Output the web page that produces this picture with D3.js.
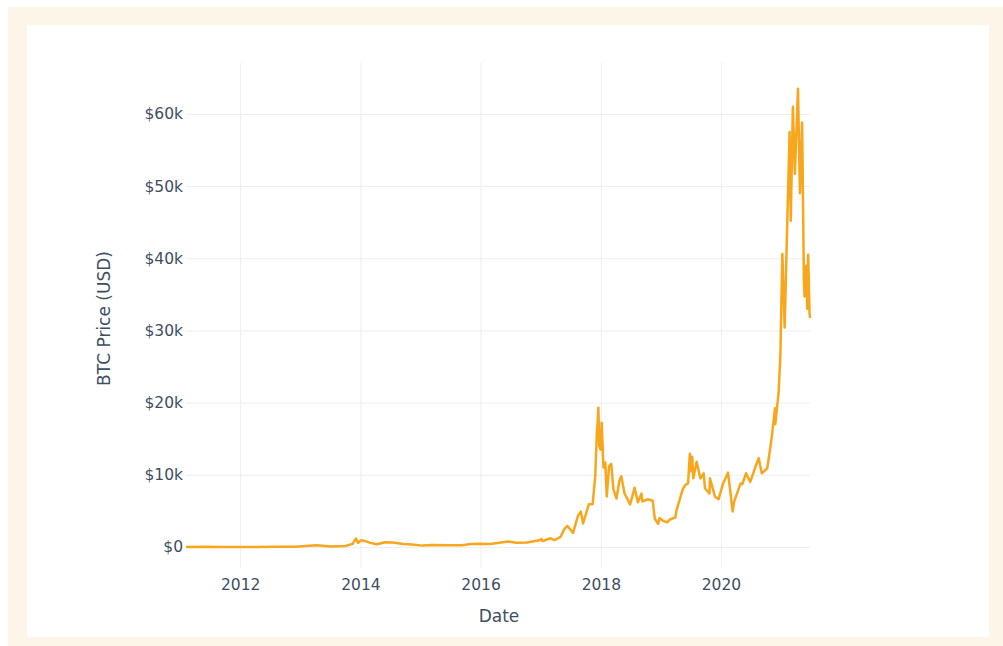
<!DOCTYPE html>
<html lang="en">
<head>
    <meta charset="UTF-8">
    <title>BTC Price (USD)</title>
    <script src="https://d3js.org/d3.v7.min.js"></script>
    <style>
        body { margin: 0; background: #fff; }
        .tick text { font-family: "DejaVu Sans", Verdana, sans-serif; font-size: 15.5px; fill: #404e62; }
        .grid line { stroke: #eceef2; stroke-width: 1px; }
        .axis-title { font-family: "DejaVu Sans", Verdana, sans-serif; font-size: 17px; fill: #404e62; }
    </style>
</head>
<body>
    <svg width="1003" height="646"></svg>
    <script>
        // BTC price (USD)
        var dates = [
            "2011-02-06", "2011-06-08", "2011-09-01", "2011-12-01", "2012-04-01", "2012-08-15", "2012-12-01",
            "2013-04-09", "2013-07-05", "2013-10-01", "2013-11-15", "2013-12-04", "2013-12-18", "2014-01-05",
            "2014-02-01", "2014-03-01", "2014-04-10", "2014-06-01", "2014-07-15", "2014-09-20", "2014-11-10",
            "2015-01-14", "2015-03-10", "2015-06-10", "2015-09-10", "2015-11-04", "2015-12-20", "2016-03-01",
            "2016-06-17", "2016-08-05", "2016-10-10", "2016-12-31", "2017-01-04", "2017-01-12", "2017-03-01",
            "2017-03-25", "2017-05-01", "2017-05-25", "2017-06-12", "2017-07-16", "2017-08-15", "2017-09-01",
            "2017-09-15", "2017-10-20", "2017-11-12", "2017-11-28", "2017-12-08", "2017-12-12", "2017-12-17",
            "2017-12-22", "2017-12-30", "2018-01-06", "2018-01-17", "2018-01-28", "2018-02-06", "2018-02-20",
            "2018-03-05", "2018-03-18", "2018-04-06", "2018-04-24", "2018-05-05", "2018-05-25", "2018-06-28",
            "2018-07-25", "2018-08-14", "2018-09-05", "2018-09-10", "2018-10-15", "2018-11-12", "2018-11-25",
            "2018-12-15", "2018-12-24", "2019-01-15", "2019-02-07", "2019-02-25", "2019-03-30", "2019-04-05",
            "2019-05-14", "2019-05-30", "2019-06-15", "2019-06-26", "2019-07-02", "2019-07-10", "2019-07-17",
            "2019-08-06", "2019-08-29", "2019-09-18", "2019-09-26", "2019-10-23", "2019-10-26", "2019-11-25",
            "2019-12-17", "2020-01-14", "2020-02-13", "2020-03-12", "2020-03-20", "2020-04-29", "2020-05-10",
            "2020-06-01", "2020-06-27", "2020-07-27", "2020-08-17", "2020-09-05", "2020-10-08", "2020-10-21",
            "2020-11-06", "2020-11-24", "2020-11-26", "2020-12-16", "2020-12-27", "2021-01-08", "2021-01-22",
            "2021-02-08", "2021-02-21", "2021-02-28", "2021-03-13", "2021-03-25", "2021-04-13", "2021-04-25",
            "2021-05-08", "2021-05-19", "2021-05-23", "2021-06-03", "2021-06-08", "2021-06-14", "2021-06-22",
            "2021-06-25"
        ];
        var prices = [
            1, 30, 5, 3, 5, 11, 13,
            230, 70, 125, 420, 1150, 550, 930,
            800, 560, 380, 650, 620, 400, 350,
            180, 280, 230, 235, 400, 430, 415,
            750, 570, 610, 960, 1130, 800, 1200,
            930, 1400, 2500, 2900, 1950, 4300, 4900,
            3250, 5900, 5900, 9800, 16000, 17000, 19300,
            14000, 13500, 17200, 11000, 11700, 7000, 11200,
            11500, 8000, 6700, 9200, 9800, 7400, 5900,
            8200, 6200, 7400, 6300, 6600, 6400, 3900,
            3200, 4000, 3600, 3400, 3800, 4100, 5000,
            8000, 8600, 8800, 12900, 10500, 12500, 9500,
            11800, 9500, 10200, 8100, 7400, 9500, 7000,
            6600, 8800, 10300, 4900, 6200, 8800, 8700,
            10200, 9000, 11000, 12300, 10200, 10900, 12800,
            15500, 19200, 17000, 21300, 26500, 40600, 30400,
            46000, 57500, 45200, 61000, 51700, 63500, 49000,
            58800, 37000, 34700, 39000, 33000, 40500, 32500,
            31700
        ];
        var yearTicks = [2012, 2014, 2016, 2018, 2020];
        var priceTicks = [0, 10000, 20000, 30000, 40000, 50000, 60000];

        var parseDate = d3.timeParse("%Y-%m-%d");
        var data = dates.map(function(d, i) { return { date: parseDate(d), price: prices[i] }; });

        var svg = d3.select("svg");

        // cream frame and white card
        svg.append("rect").attr("x", 8).attr("y", 7).attr("width", 995).attr("height", 639).attr("fill", "#fdf5e8");
        svg.append("rect").attr("x", 27).attr("y", 25).attr("width", 962).attr("height", 612).attr("fill", "#fff");

        var margin = {top: 63, right: 193, bottom: 78, left: 186},
            width = 1003 - margin.left - margin.right,
            height = 646 - margin.top - margin.bottom,
            g = svg.append("g").attr("transform", "translate(" + margin.left + "," + margin.top + ")");

        var x = d3.scaleTime()
            .domain(d3.extent(data, d => d.date))
            .range([0, width]);

        var maxPrice = d3.max(data, d => d.price);
        var y = d3.scaleLinear()
            .domain([-maxPrice * 0.046, maxPrice * 1.056])
            .range([height, 0]);

        // vertical grid + year labels
        var xAxis = g.append("g")
            .attr("class", "grid")
            .attr("transform", "translate(0," + height + ")")
            .call(d3.axisBottom(x)
                .tickValues(yearTicks.map(yr => new Date(yr, 0, 1)))
                .tickFormat(d3.timeFormat("%Y"))
                .tickSize(-height)
                .tickPadding(10));
        xAxis.select(".domain").remove();
        xAxis.selectAll("text").attr("dy", "0.8em");

        // horizontal grid + price labels
        var yAxis = g.append("g")
            .attr("class", "grid")
            .call(d3.axisLeft(y)
                .tickValues(priceTicks)
                .tickFormat(d => d === 0 ? "$0" : "$" + d / 1000 + "k")
                .tickSize(-width)
                .tickPadding(3));
        yAxis.select(".domain").remove();

        var line = d3.line()
            .x(d => x(d.date))
            .y(d => y(d.price));

        g.append("path")
            .datum(data)
            .attr("fill", "none")
            .attr("stroke", "#f8a61c")
            .attr("stroke-width", 2.5)
            .attr("stroke-linejoin", "round")
            .attr("d", line);

        g.append("text")
            .attr("class", "axis-title")
            .attr("text-anchor", "middle")
            .attr("x", width / 2 + 1)
            .attr("y", height + 54)
            .text("Date");

        g.append("text")
            .attr("class", "axis-title")
            .attr("text-anchor", "middle")
            .attr("transform", "translate(" + (-76) + "," + (height / 2 + 3) + ") rotate(-90)")
            .text("BTC Price (USD)");
    </script>
</body>
</html>
